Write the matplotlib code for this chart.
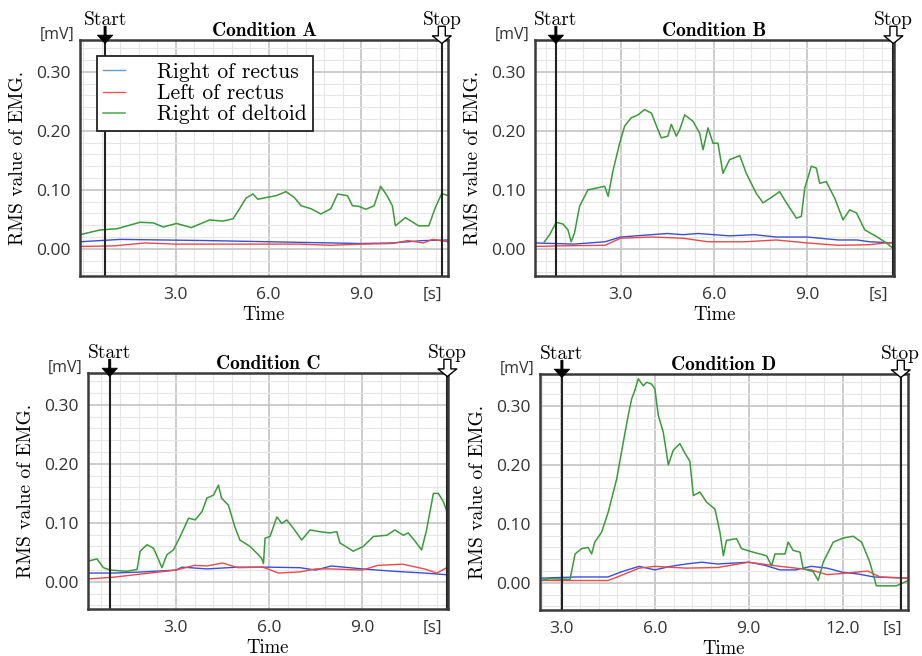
import matplotlib.pyplot as plt
from matplotlib.ticker import FixedLocator, MultipleLocator, FormatStrFormatter

# ---- data (time in s, RMS in mV) ----
# Condition A
a_green_t = [-0.1, 0.55, 1.09, 1.84, 2.27, 2.59, 3.02, 3.5, 4.09, 4.52, 4.85, 5.06, 5.27, 5.49,
             5.65, 5.92, 6.24, 6.56, 6.83, 7.05, 7.37, 7.69, 8.01, 8.23, 8.55, 8.71, 8.92, 9.14,
             9.41, 9.62, 9.83, 10.0, 10.1, 10.42, 10.85, 11.18, 11.39, 11.6, 11.8]
a_green_v = [0.024, 0.032, 0.034, 0.045, 0.044, 0.037, 0.043, 0.036, 0.049, 0.047, 0.051, 0.068,
             0.086, 0.093, 0.084, 0.087, 0.090, 0.097, 0.087, 0.073, 0.068, 0.059, 0.068, 0.093,
             0.090, 0.073, 0.072, 0.067, 0.073, 0.106, 0.090, 0.073, 0.039, 0.053, 0.039, 0.039,
             0.070, 0.094, 0.090]
a_blue_t = [-0.1, 1.2, 4.0, 6.0, 8.0, 9.0, 10.0, 11.0, 11.8]
a_blue_v = [0.012, 0.016, 0.014, 0.012, 0.010, 0.009, 0.010, 0.014, 0.015]
a_red_t = [-0.1, 1.0, 2.0, 3.0, 5.0, 7.0, 8.0, 9.0, 10.0, 10.5, 11.0, 11.3, 11.8]
a_red_v = [0.004, 0.005, 0.010, 0.008, 0.008, 0.008, 0.006, 0.008, 0.009, 0.014, 0.010, 0.016, 0.012]

# Condition B
b_green_t = [0.55, 0.72, 0.93, 1.15, 1.31, 1.41, 1.52, 1.68, 1.95, 2.22, 2.49, 2.6, 2.75, 2.97,
             3.13, 3.34, 3.56, 3.77, 3.99, 4.2, 4.31, 4.52, 4.63, 4.79, 4.9, 5.06, 5.33, 5.54,
             5.65, 5.81, 5.97, 6.13, 6.29, 6.5, 6.83, 7.04, 7.36, 7.58, 7.9, 8.11, 8.33, 8.65,
             8.81, 8.92, 9.13, 9.29, 9.4, 9.61, 9.88, 10.15, 10.36, 10.58, 10.85, 11.22, 11.54,
             11.76]
b_green_v = [0.012, 0.024, 0.045, 0.042, 0.032, 0.012, 0.027, 0.072, 0.100, 0.103, 0.106, 0.089,
             0.131, 0.179, 0.208, 0.222, 0.227, 0.236, 0.230, 0.202, 0.188, 0.191, 0.211, 0.191,
             0.202, 0.227, 0.216, 0.196, 0.168, 0.205, 0.179, 0.179, 0.128, 0.151, 0.158, 0.128,
             0.094, 0.078, 0.089, 0.097, 0.078, 0.052, 0.055, 0.103, 0.140, 0.137, 0.111, 0.114,
             0.086, 0.049, 0.066, 0.061, 0.032, 0.021, 0.010, 0.001]
b_blue_t = [0.25, 1.5, 2.5, 3.0, 4.0, 4.5, 5.0, 5.5, 6.5, 7.3, 8.0, 9.0, 10.0, 10.6, 11.0, 11.8]
b_blue_v = [0.010, 0.008, 0.012, 0.020, 0.024, 0.026, 0.024, 0.026, 0.022, 0.024, 0.020, 0.020,
            0.015, 0.015, 0.012, 0.010]
b_red_t = [0.25, 1.0, 2.5, 3.0, 4.0, 5.0, 5.8, 7.0, 8.0, 9.0, 10.0, 11.0, 11.5, 11.8]
b_red_v = [0.004, 0.005, 0.006, 0.018, 0.020, 0.018, 0.012, 0.012, 0.015, 0.010, 0.006, 0.007,
           0.010, 0.010]

# Condition C
c_green_t = [0.17, 0.46, 0.67, 0.89, 1.42, 1.75, 1.85, 2.07, 2.28, 2.44, 2.55, 2.71, 2.92, 3.14,
             3.41, 3.62, 3.84, 4.0, 4.21, 4.37, 4.47, 4.69, 4.9, 5.06, 5.39, 5.6, 5.76, 5.82,
             5.87, 6.03, 6.25, 6.41, 6.57, 6.78, 7.05, 7.32, 7.64, 7.96, 8.18, 8.28, 8.71, 9.03,
             9.36, 9.79, 10.05, 10.32, 10.48, 10.7, 10.91, 11.07, 11.29, 11.45, 11.61, 11.75]
c_green_v = [0.035, 0.039, 0.024, 0.020, 0.018, 0.021, 0.052, 0.063, 0.057, 0.038, 0.024, 0.046,
             0.054, 0.077, 0.108, 0.105, 0.119, 0.142, 0.147, 0.164, 0.142, 0.130, 0.093, 0.071,
             0.060, 0.049, 0.040, 0.031, 0.074, 0.077, 0.110, 0.099, 0.105, 0.091, 0.071, 0.088,
             0.085, 0.083, 0.085, 0.066, 0.052, 0.060, 0.077, 0.079, 0.088, 0.079, 0.083, 0.069,
             0.054, 0.088, 0.150, 0.150, 0.136, 0.116]
c_blue_t = [0.17, 1.0, 2.0, 3.0, 3.2, 4.0, 5.0, 6.0, 7.0, 7.5, 8.0, 9.0, 10.0, 11.0, 11.75]
c_blue_v = [0.015, 0.015, 0.017, 0.020, 0.025, 0.022, 0.025, 0.025, 0.024, 0.020, 0.027, 0.022,
            0.018, 0.015, 0.012]
c_red_t = [0.17, 1.0, 2.0, 3.0, 3.6, 4.0, 4.5, 5.0, 5.8, 6.3, 7.0, 7.5, 8.0, 9.0, 9.5, 10.3,
           11.0, 11.4, 11.75]
c_red_v = [0.005, 0.008, 0.014, 0.020, 0.028, 0.027, 0.032, 0.024, 0.025, 0.015, 0.017, 0.022,
           0.022, 0.020, 0.028, 0.030, 0.022, 0.015, 0.025]

# Condition D
d_green_t = [2.33, 2.65, 3.29, 3.45, 3.66, 3.87, 3.98, 4.08, 4.3, 4.51, 4.78, 4.99, 5.15, 5.26,
             5.36, 5.47, 5.63, 5.74, 5.89, 6.0, 6.11, 6.27, 6.43, 6.59, 6.8, 6.96, 7.12, 7.23,
             7.44, 7.65, 7.92, 8.08, 8.19, 8.29, 8.61, 8.77, 9.14, 9.57, 9.73, 9.84, 10.16,
             10.26, 10.42, 10.64, 10.74, 11.06, 11.22, 11.38, 11.7, 12.02, 12.34, 12.61, 12.87,
             13.08, 13.72, 14.1]
d_green_v = [0.004, 0.007, 0.006, 0.049, 0.058, 0.060, 0.049, 0.069, 0.086, 0.120, 0.176, 0.238,
             0.284, 0.312, 0.326, 0.346, 0.334, 0.340, 0.337, 0.329, 0.284, 0.255, 0.200, 0.225,
             0.236, 0.220, 0.206, 0.148, 0.154, 0.137, 0.125, 0.086, 0.046, 0.072, 0.075, 0.058,
             0.052, 0.046, 0.029, 0.049, 0.049, 0.069, 0.055, 0.052, 0.024, 0.019, 0.004, 0.035,
             0.069, 0.076, 0.079, 0.069, 0.035, -0.005, -0.005, 0.004]
d_blue_t = [2.33, 3.5, 4.5, 5.0, 5.5, 6.0, 6.5, 7.0, 7.5, 8.0, 9.0, 9.5, 10.0, 10.5, 11.0, 11.5,
            12.0, 12.5, 13.0, 14.1]
d_blue_v = [0.008, 0.010, 0.010, 0.020, 0.028, 0.022, 0.028, 0.032, 0.035, 0.032, 0.035, 0.030,
            0.022, 0.022, 0.028, 0.025, 0.018, 0.015, 0.010, 0.008]
d_red_t = [2.33, 4.5, 4.8, 5.5, 6.0, 7.0, 8.0, 9.0, 10.0, 11.0, 11.5, 12.0, 12.8, 13.2, 14.1]
d_red_v = [0.004, 0.004, 0.010, 0.025, 0.028, 0.025, 0.026, 0.035, 0.028, 0.022, 0.014, 0.016,
           0.020, 0.010, 0.008]

titles = ['Condition A', 'Condition B', 'Condition C', 'Condition D']
names = ['Right of rectus', 'Left of rectus', 'Right of deltoid']
xticks = [[3.0, 6.0, 9.0], [3.0, 6.0, 9.0], [3.0, 6.0, 9.0], [3.0, 6.0, 9.0, 12.0]]
xlims = [(-0.1, 11.8), (0.25, 11.79), (0.17, 11.76), (2.33, 14.09)]
start_t = [0.71, 0.92, 0.87, 3.03]
stop_t = [11.6, 11.77, 11.74, 13.86]

blue = '#3a4fd6'
red = '#e84a4a'
green = '#3c993c'
serif = 'cmr10'
sans = 'Open Sans'

fig = plt.figure(figsize=(9.22, 6.56), dpi=100)
# axes boxes (left, bottom, width, height) in figure fraction
boxes = [[0.0868, 0.5793, 0.3991, 0.3598],
         [0.5803, 0.5793, 0.3894, 0.3598],
         [0.0954, 0.0716, 0.3905, 0.3598],
         [0.5857, 0.0701, 0.3991, 0.3598]]

data = [(a_blue_t, a_blue_v, a_red_t, a_red_v, a_green_t, a_green_v),
        (b_blue_t, b_blue_v, b_red_t, b_red_v, b_green_t, b_green_v),
        (c_blue_t, c_blue_v, c_red_t, c_red_v, c_green_t, c_green_v),
        (d_blue_t, d_blue_v, d_red_t, d_red_v, d_green_t, d_green_v)]

for i in range(4):
    ax = fig.add_axes(boxes[i])
    bt, bv, rt, rv, gt, gv = data[i]
    lb, = ax.plot(bt, bv, color=blue, lw=1.0)
    lr, = ax.plot(rt, rv, color=red, lw=1.0)
    lg, = ax.plot(gt, gv, color=green, lw=1.1)

    ax.set_xlim(*xlims[i])
    ax.set_ylim(-0.046, 0.354)
    ax.xaxis.set_major_locator(FixedLocator(xticks[i]))
    ax.xaxis.set_minor_locator(MultipleLocator(0.6))
    ax.yaxis.set_major_locator(MultipleLocator(0.1))
    ax.yaxis.set_minor_locator(MultipleLocator(0.02))
    ax.xaxis.set_major_formatter(FormatStrFormatter('%.1f'))
    ax.yaxis.set_major_formatter(FormatStrFormatter('%.2f'))
    ax.grid(which='major', color='#c4c4c4', lw=1.2)
    ax.grid(which='minor', color='#e6e6e6', lw=0.8)
    ax.set_axisbelow(True)
    ax.tick_params(which='both', length=0)
    ax.tick_params(axis='x', pad=8)
    ax.tick_params(axis='y', pad=7)
    for lab in ax.get_xticklabels() + ax.get_yticklabels():
        lab.set_fontfamily(sans)
        lab.set_fontsize(12.5)
        lab.set_color('#333333')
    for sp in ax.spines.values():
        sp.set_color('#3a3a3a')
        sp.set_linewidth(1.8)

    ax.set_title(titles[i], fontfamily='cmb10', fontsize=14, pad=1)
    ax.set_xlabel('Time', fontfamily=serif, fontsize=13.5, labelpad=2)
    ax.set_ylabel('RMS value of EMG.', fontfamily=serif, fontsize=14, labelpad=6)
    ax.text(-0.015, 1.02, '[mV]', transform=ax.transAxes, ha='right', va='center',
            fontfamily=sans, fontsize=11.5, color='#333333')
    ax.annotate('[s]', xy=(0.985, 0), xycoords='axes fraction', xytext=(0, -8),
                textcoords='offset points', ha='right', va='top',
                fontfamily=sans, fontsize=12.5, color='#333333')

    # start / stop markers
    trans = ax.get_xaxis_transform()
    ax.axvline(start_t[i], color='#222222', lw=1.5)
    ax.axvline(stop_t[i], color='#222222', lw=1.5)
    ax.annotate('', xy=(start_t[i], 0.985), xytext=(start_t[i], 1.058), xycoords=trans,
                textcoords=trans,
                arrowprops=dict(arrowstyle='simple,head_length=0.6,head_width=1.1,tail_width=0.15',
                                fc='black', ec='black', lw=0.6, mutation_scale=10,
                                shrinkA=0, shrinkB=0))
    ax.annotate('', xy=(stop_t[i], 0.985), xytext=(stop_t[i], 1.058), xycoords=trans,
                textcoords=trans,
                arrowprops=dict(arrowstyle='simple,head_length=0.55,head_width=1.35,tail_width=0.5',
                                fc='white', ec='black', lw=1.0, mutation_scale=10,
                                shrinkA=0, shrinkB=0))
    ax.text(start_t[i], 1.064, 'Start', transform=trans, ha='center', va='baseline',
            fontfamily=serif, fontsize=14)
    ax.text(stop_t[i], 1.064, 'Stop', transform=trans, ha='center', va='baseline',
            fontfamily=serif, fontsize=14)

    if i == 0:
        leg = ax.legend([lb, lr, lg], names, loc='upper left', bbox_to_anchor=(0.046, 0.932),
                        borderaxespad=0, fancybox=False, framealpha=1, edgecolor='#222222',
                        handlelength=1.0, handletextpad=1.5, borderpad=0.3, labelspacing=0.08,
                        prop={'family': serif, 'size': 15.5})
        leg.get_frame().set_linewidth(1.3)
        leg.get_lines()[0].set_color('#6a98d0')
        leg.get_lines()[1].set_color('#e85a5a')
        leg.get_lines()[2].set_color('#4aa84a')

fig.savefig('out.png', dpi=100)
